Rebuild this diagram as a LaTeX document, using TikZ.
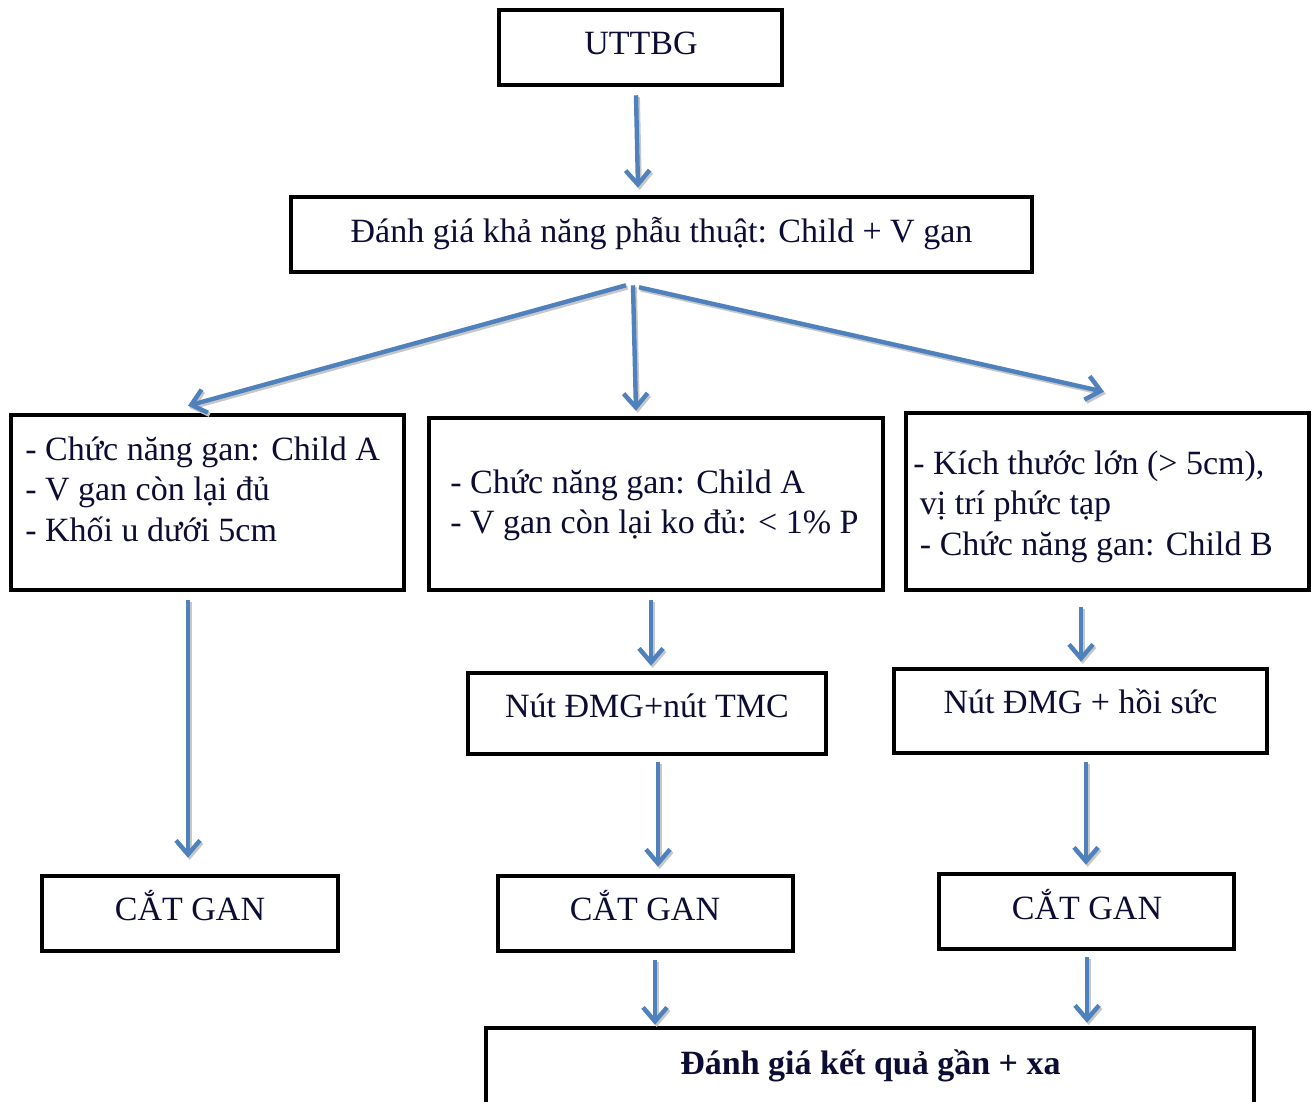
\documentclass[tikz,border=0pt]{standalone}
\usepackage{fontspec}
\setmainfont{Liberation Serif}
\usetikzlibrary{arrows.meta,calc}
\definecolor{txt}{RGB}{12,12,52}
\definecolor{arr}{HTML}{4F81BD}
\newdimen\pxu \pxu=0.75pt
\newcommand\mlines[1]{\vtop{\lineskiplimit=-100pt\relax #1}}
\begin{document}
\begin{tikzpicture}[x=0.75pt,y=-0.75pt,
 box/.style={draw=black,line width=3.4pt,inner sep=0pt},
 lbl/.style={inner sep=0pt,text=txt,font=\fontsize{25.5pt}{30.4pt}\selectfont},
 conn/.style={draw=arr,line width=3.3pt,-{Straight Barb[length=10.5pt,width=18pt]},
   preaction={draw=black!22,line width=3.3pt,-{Straight Barb[length=10.5pt,width=18pt]},
   transform canvas={shift={(1.3pt,-1.6pt)}}}}]
\useasboundingbox (0,0) rectangle (1316,1101);
\clip (0,0) rectangle (1316,1101);
\fill[white] (0,0) rectangle (1316,1101);

% boxes
\node[box,minimum width=283\pxu,minimum height=75\pxu] (top) at (640.5,47.5) {};
\node[box,minimum width=741\pxu,minimum height=75\pxu] (eval) at (661.5,234.5) {};
\node[box,minimum width=393\pxu,minimum height=175\pxu] (L) at (207.5,502.5) {};
\node[box,minimum width=454\pxu,minimum height=172\pxu] (M) at (656,504) {};
\node[box,minimum width=403\pxu,minimum height=177\pxu] (R) at (1107.5,501.5) {};
\node[box,minimum width=358\pxu,minimum height=81\pxu] (nut1) at (647,713.5) {};
\node[box,minimum width=373\pxu,minimum height=84\pxu] (nut2) at (1080.5,711) {};
\node[box,minimum width=296\pxu,minimum height=75\pxu] (cut1) at (190,913.5) {};
\node[box,minimum width=295\pxu,minimum height=75\pxu] (cut2) at (645.5,913.5) {};
\node[box,minimum width=295\pxu,minimum height=75\pxu] (cut3) at (1086.5,911.5) {};
\node[box,minimum width=768\pxu,minimum height=100\pxu] (final) at (870,1078) {};

% texts
\node[lbl,anchor=base] (ttop) at (641,54) {UTTBG};
\node[lbl,anchor=base] (teval) at (661.5,242) {Đánh giá khả năng phẫu thuật: Child + V gan};
\node[lbl,anchor=base west] (tL) at (25,460) {\mlines{\hbox{- Chức năng gan: Child A}\hbox{- V gan còn lại đủ}\hbox{- Khối u dưới 5cm}}};
\node[lbl,anchor=base west] (tM) at (450,493) {\mlines{\hbox{- Chức năng gan: Child A}\hbox{- V gan còn lại ko đủ: < 1\% P}}};
\node[lbl,anchor=base west] (tR) at (913,474) {\mlines{\hbox{- Kích thước lớn (> 5cm),}\hbox{\hspace*{5pt}vị trí phức tạp}\hbox{\hspace*{5pt}- Chức năng gan: Child B}}};
\node[lbl,anchor=base] (tnut1) at (647,717) {Nút ĐMG+nút TMC};
\node[lbl,anchor=base] (tnut2) at (1080.5,713) {Nút ĐMG + hồi sức};
\node[lbl,anchor=base] (tcut1) at (190,920) {CẮT GAN};
\node[lbl,anchor=base] (tcut2) at (645,920) {CẮT GAN};
\node[lbl,anchor=base] (tcut3) at (1087,919) {CẮT GAN};
\node[lbl,anchor=base,font=\fontsize{25.5pt}{30.4pt}\selectfont\bfseries] (tfinal) at (870.5,1074) {Đánh giá kết quả gần + xa};

% connectors
\draw[conn] ([shift={(-4.5,8)}]top.south) -- ([shift={(-23.5,-7)}]eval.north);
\draw[conn] ([shift={(-35.5,11)}]eval.south) -- ([shift={(-19.5,-7)}]L.north);
\draw[conn] ([shift={(-28.5,11)}]eval.south) -- ([shift={(-20,-5)}]M.north);
\draw[conn] ([shift={(-22.5,13)}]eval.south) -- ([shift={(-3.5,-19)}]R.north);
\draw[conn] ([shift={(-19.5,8)}]L.south) -- ([shift={(-2,-16)}]cut1.north);
\draw[conn] ([shift={(-5,8)}]M.south) -- ([shift={(4,-5)}]nut1.north);
\draw[conn] ([shift={(11,6)}]nut1.south) -- ([shift={(12.5,-7)}]cut2.north);
\draw[conn] ([shift={(9.5,7)}]cut2.south) -- ([shift={(-215,-1)}]final.north);
\draw[conn] ([shift={(-26.5,15)}]R.south) -- ([shift={(0.5,-5)}]nut2.north);
\draw[conn] ([shift={(5.5,7)}]nut2.south) -- ([shift={(-0.5,-7)}]cut3.north);
\draw[conn] ([shift={(0.5,6)}]cut3.south) -- ([shift={(217,-3)}]final.north);
\end{tikzpicture}
\end{document}
